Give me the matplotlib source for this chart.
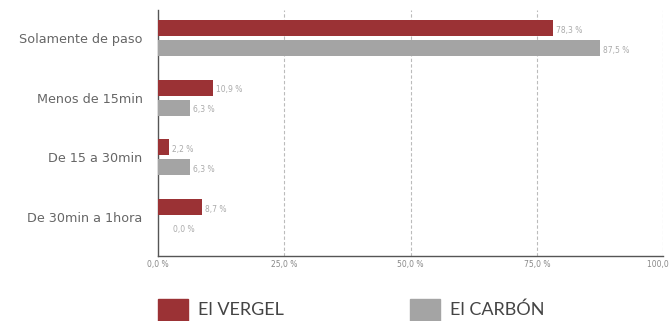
import numpy as np
from matplotlib import pyplot as plt
from matplotlib.patches import Rectangle

# Tiempo de permanencia por barrio
categories = ["Solamente de paso", "Menos de 15min", "De 15 a 30min", "De 30min a 1hora"]
vergel = [78.3, 10.9, 2.2, 8.7]
carbon = [87.5, 6.3, 6.3, 0.0]
series_names = ["El VERGEL", "El CARBÓN"]
xticks = [0, 25, 50, 75, 100]

red = "#9b3235"
grey = "#a4a4a4"
txt = "#666666"

fig = plt.figure(figsize=(6.71, 3.21), dpi=100)
ax = fig.add_axes([158/671, 1 - 256/321, (663 - 158)/671, 246/321])

y = np.arange(len(categories))
h = 0.27
off = 0.168
ax.barh(y - off, vergel, height=h, color=red, zorder=3)
ax.barh(y + off, carbon, height=h, color=grey, zorder=3)

# etiquetas de valor al final de cada barra
for yi, v in zip(y, vergel):
    ax.text(v + 0.6, yi - off + 0.04, ("%.1f %%" % v).replace(".", ","),
            fontsize=5.5, color="#aaaaaa", va="center", ha="left")
for yi, v in zip(y, carbon):
    xv = v + 0.6 if v > 0 else 3.0
    ax.text(xv, yi + off + 0.04, ("%.1f %%" % v).replace(".", ","),
            fontsize=5.5, color="#aaaaaa", va="center", ha="left")

ax.set_xlim(0, 100)
ax.set_ylim(3.66, -0.47)
ax.set_yticks(y)
ax.set_yticklabels(categories, fontsize=9.2, color=txt)
ax.set_xticks(xticks)
ax.set_xticklabels([("%.1f %%" % t).replace(".", ",") for t in xticks], fontsize=5.5, color="#888888")
ax.tick_params(axis="both", length=0)
ax.tick_params(axis="y", pad=11)
ax.tick_params(axis="x", pad=3)

for t in xticks[1:]:
    ax.axvline(t, color="#bbbbbb", linestyle=(0, (3, 2)), linewidth=0.8, zorder=1)

for s in ["top", "right"]:
    ax.spines[s].set_visible(False)
ax.spines["left"].set_color("#555555")
ax.spines["bottom"].set_color("#555555")
ax.spines["left"].set_linewidth(1.0)
ax.spines["bottom"].set_linewidth(1.0)

# leyenda
for x0, c, name in [(158, red, series_names[0]), (410, grey, series_names[1])]:
    fig.add_artist(Rectangle((x0/671, 0.0), 30/671, 22/321,
                             transform=fig.transFigure, color=c))
    fig.text((x0 + 40)/671, 11/321, name, fontsize=13, color="#444444",
             va="center", ha="left", family="Lato")

plt.savefig("out.png", dpi=100)
